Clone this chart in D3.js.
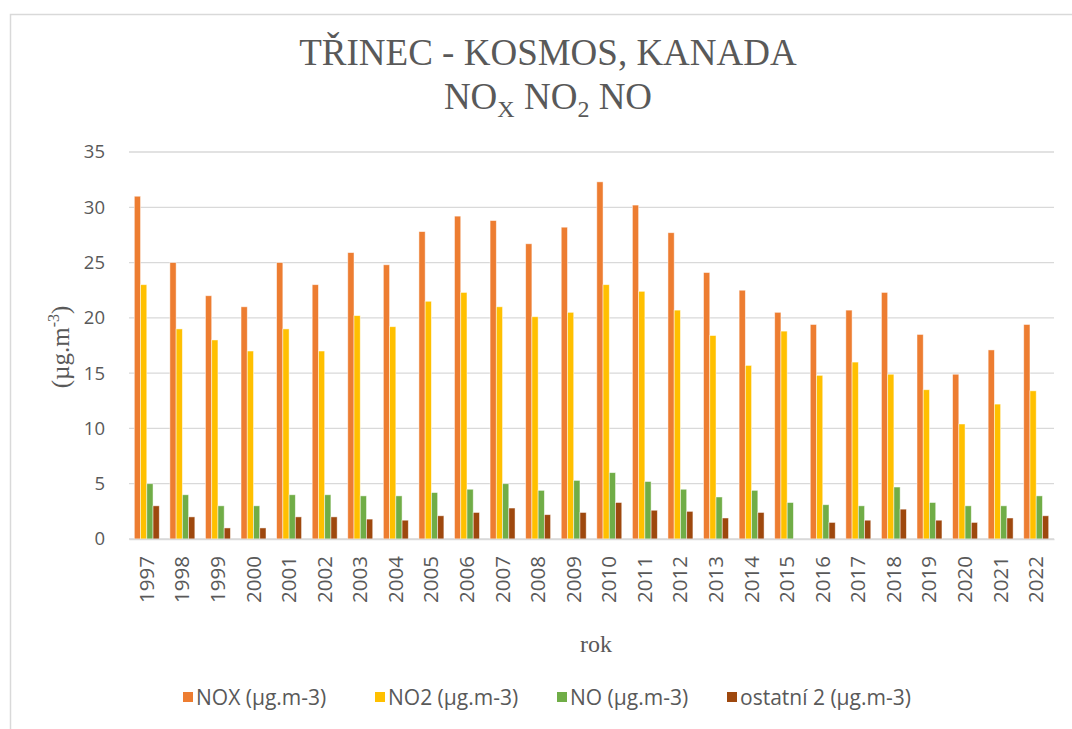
<!DOCTYPE html>
<html>
<head>
<meta charset="utf-8">
<script src="https://cdn.jsdelivr.net/npm/d3@7"></script>
<style>
  body { margin: 0; background: #fff; }
  svg { display: block; }
</style>
</head>
<body>
<script>
const years = ['1997','1998','1999','2000','2001','2002','2003','2004','2005','2006','2007','2008','2009',
  '2010','2011','2012','2013','2014','2015','2016','2017','2018','2019','2020','2021','2022'];
const nox = [31, 25, 22, 21, 25, 23, 25.9, 24.8, 27.8, 29.2, 28.8, 26.7, 28.2,
  32.3, 30.2, 27.7, 24.1, 22.5, 20.5, 19.4, 20.7, 22.3, 18.5, 14.9, 17.1, 19.4];
const no2 = [23, 19, 18, 17, 19, 17, 20.2, 19.2, 21.5, 22.3, 21, 20.1, 20.5,
  23, 22.4, 20.7, 18.4, 15.7, 18.8, 14.8, 16, 14.9, 13.5, 10.4, 12.2, 13.4];
const no = [5, 4, 3, 3, 4, 4, 3.9, 3.9, 4.2, 4.5, 5, 4.4, 5.3,
  6, 5.2, 4.5, 3.8, 4.4, 3.3, 3.1, 3.0, 4.7, 3.3, 3.0, 3.0, 3.9];
const ostatni = [3, 2, 1, 1, 2, 2, 1.8, 1.7, 2.1, 2.4, 2.8, 2.2, 2.4,
  3.3, 2.6, 2.5, 1.9, 2.4, null, 1.5, 1.7, 2.7, 1.7, 1.5, 1.9, 2.1];
const seriesNames = ['NOX (µg.m-3)', 'NO2 (µg.m-3)', 'NO (µg.m-3)', 'ostatní 2 (µg.m-3)'];
const colors = ['#ED7D31', '#FFC000', '#70AD47', '#9E480E'];
const yTicks = [0, 5, 10, 15, 20, 25, 30, 35];

const series = [nox, no2, no, ostatni];
const W = 1072, H = 729;
const margin = {top: 152, right: 18, bottom: 190, left: 129};

const svg = d3.select('body').append('svg')
    .attr('width', W)
    .attr('height', H);

// chart frame
svg.append('rect')
    .attr('x', 10.5).attr('y', 14.5)
    .attr('width', W + 20).attr('height', H + 20)
    .attr('fill', 'none')
    .attr('stroke', '#d9d9d9')
    .attr('stroke-width', 1.5);

const x = d3.scaleBand().domain(years).range([margin.left, W - margin.right]);
const x1 = d3.scaleBand().domain(d3.range(4)).range([0, x.bandwidth()]).paddingOuter(0.85);
const y = d3.scaleLinear().domain([0, 35]).range([H - margin.bottom, margin.top]);

// gridlines
svg.append('g')
    .selectAll('line')
    .data(yTicks)
    .join('line')
    .attr('x1', margin.left).attr('x2', W - margin.right)
    .attr('y1', d => y(d)).attr('y2', d => y(d))
    .attr('stroke', '#d9d9d9')
    .attr('stroke-width', 1.3);

// y axis labels
const yAxis = svg.append('g')
    .attr('transform', `translate(${margin.left},0)`)
    .call(d3.axisLeft(y).tickValues(yTicks).tickSize(0).tickPadding(24));
yAxis.select('.domain').remove();
yAxis.selectAll('text')
    .attr('fill', '#595959')
    .style('font-family', '"Open Sans", sans-serif')
    .style('font-size', '18.5px');

// bars
const groups = svg.append('g')
    .selectAll('g')
    .data(years)
    .join('g')
    .attr('transform', d => `translate(${x(d)},0)`);

groups.selectAll('rect')
    .data((d, i) => series.map((s, k) => ({k, v: s[i]})).filter(e => e.v != null))
    .join('rect')
    .attr('x', e => x1(e.k))
    .attr('width', x1.bandwidth())
    .attr('y', e => y(e.v))
    .attr('height', e => y(0) - y(e.v))
    .attr('fill', e => colors[e.k])
    .attr('stroke', '#fff')
    .attr('stroke-opacity', 0.6)
    .attr('stroke-width', 0.8);

// x axis
const xAxis = svg.append('g')
    .attr('transform', `translate(0,${y(0)})`)
    .call(d3.axisBottom(x).tickSize(0).tickPadding(0));
xAxis.select('.domain').attr('stroke', '#d9d9d9').attr('stroke-width', 1.3);
xAxis.selectAll('text')
    .attr('fill', '#595959')
    .style('font-family', '"Open Sans", sans-serif')
    .style('font-size', '20.5px')
    .attr('text-anchor', 'end')
    .attr('transform', 'translate(7,17) rotate(-90)')
    .attr('dy', 0)
    .attr('y', 0)
    .attr('x', 0);

// title
const title = svg.append('text')
    .attr('text-anchor', 'middle')
    .attr('fill', '#595959')
    .style('font-family', '"Liberation Serif", serif')
    .style('font-size', '37px');
title.append('tspan').attr('x', 548).attr('y', 65).text('TŘINEC - KOSMOS, KANADA');
const t2 = title.append('tspan').attr('x', 548).attr('y', 109);
t2.append('tspan').text('NO');
t2.append('tspan').attr('dy', 8).style('font-size', '24px').text('X');
t2.append('tspan').attr('dy', -8).text(' NO');
t2.append('tspan').attr('dy', 8).style('font-size', '24px').text('2');
t2.append('tspan').attr('dy', -8).text(' NO');

// y axis title
const yt = svg.append('text')
    .attr('transform', `translate(69,347) rotate(-90)`)
    .attr('text-anchor', 'middle')
    .attr('fill', '#595959')
    .style('font-family', '"Liberation Serif", serif')
    .style('font-size', '25px');
yt.append('tspan').text('(µg.m');
yt.append('tspan').attr('dy', -10).style('font-size', '16px').text('-3');
yt.append('tspan').attr('dy', 10).text(')');

// x axis title
svg.append('text')
    .attr('x', 596).attr('y', 652)
    .attr('text-anchor', 'middle')
    .attr('fill', '#595959')
    .style('font-family', '"Liberation Serif", serif')
    .style('font-size', '24px')
    .text('rok');

// legend
const legendX = [183, 375, 557, 727];
const legend = svg.append('g')
    .selectAll('g')
    .data(seriesNames)
    .join('g')
    .attr('transform', (d, i) => `translate(${legendX[i]},697)`);
legend.append('rect')
    .attr('x', 0).attr('y', -5)
    .attr('width', 10).attr('height', 10)
    .attr('fill', (d, i) => colors[i]);
legend.append('text')
    .attr('x', 13).attr('y', 7.5)
    .attr('fill', '#595959')
    .style('font-family', '"Open Sans", sans-serif')
    .style('font-size', '21px')
    .text(d => d);
</script>
</body>
</html>
